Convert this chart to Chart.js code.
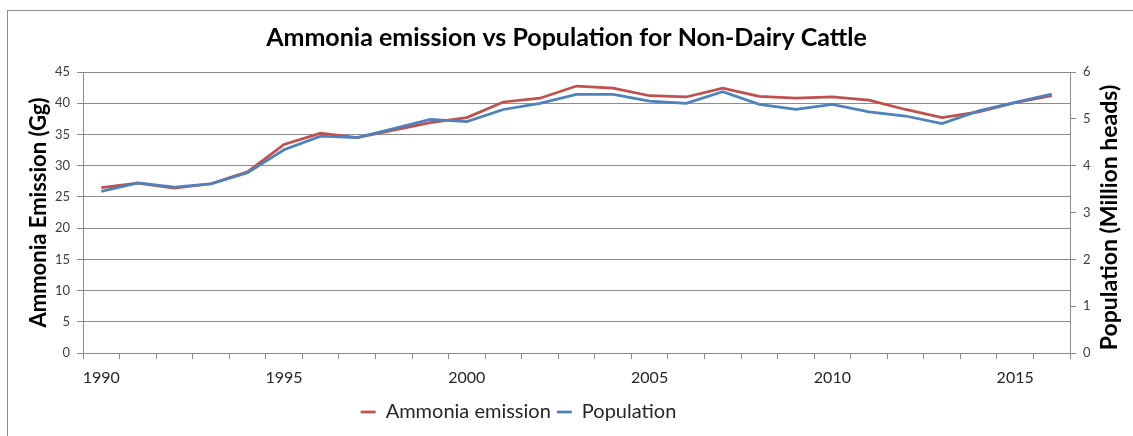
<!DOCTYPE html>
<html>
<head>
<meta charset="utf-8">
<script src="https://cdn.jsdelivr.net/npm/chart.js@4"></script>
<style>
  html, body { margin: 0; padding: 0; background: #ffffff; }
  #wrap { width: 1133px; height: 436px; position: relative; }
</style>
</head>
<body>
<div id="wrap"><canvas id="chart" width="1133" height="436"></canvas></div>
<script>
// Years on the horizontal axis
const years = ['1990','1991','1992','1993','1994','1995','1996','1997','1998','1999',
               '2000','2001','2002','2003','2004','2005','2006','2007','2008','2009',
               '2010','2011','2012','2013','2014','2015','2016'];

// Ammonia emission, Gg (left axis)
const ammoniaEmission = [26.5, 27.2, 26.4, 27.1, 29.0, 33.4, 35.2, 34.5, 35.7, 36.9,
                         37.7, 40.2, 40.8, 42.75, 42.4, 41.2, 41.0, 42.4, 41.1, 40.8,
                         41.0, 40.5, 39.0, 37.7, 38.6, 40.1, 41.2];

// Non-dairy cattle population, million heads (right axis)
const population = [3.45, 3.63, 3.54, 3.61, 3.85, 4.34, 4.63, 4.60, 4.79, 4.99,
                    4.94, 5.20, 5.33, 5.52, 5.52, 5.38, 5.33, 5.58, 5.31, 5.20,
                    5.31, 5.15, 5.06, 4.90, 5.17, 5.35, 5.53];

// Axis tick ranges
const emissionTicks = { min: 0, max: 45, step: 5 };
const populationTicks = { min: 0, max: 6, step: 1 };
const labelEvery = 5;

const RED = '#C0504D';
const BLUE = '#4F81BD';
const GRID = '#8c8c8c';
const FONT = 'Lato, "Open Sans", sans-serif';
const rightAxisTitle = 'Population (Million heads)';

Chart.defaults.font.family = FONT;

// White background and the chart outline
const frame = {
  id: 'frame',
  beforeDraw(chart) {
    const ctx = chart.ctx;
    ctx.save();
    ctx.fillStyle = '#ffffff';
    ctx.fillRect(0, 0, chart.width, chart.height);
    ctx.strokeStyle = '#8a8a8a';
    ctx.lineWidth = 1;
    ctx.strokeRect(7.5, 10.5, chart.width + 20, chart.height + 20);
    ctx.restore();
  }
};

// Right-hand axis title, reading bottom to top like the left one
const rightTitle = {
  id: 'rightTitle',
  afterDraw(chart) {
    const s = chart.scales.y1;
    const ctx = chart.ctx;
    ctx.save();
    ctx.translate(s.right - 23, (chart.chartArea.top + chart.chartArea.bottom) / 2 + 5);
    ctx.rotate(-Math.PI / 2);
    ctx.fillStyle = '#000000';
    ctx.font = 'bold 23px ' + FONT;
    ctx.textAlign = 'center';
    ctx.textBaseline = 'middle';
    ctx.fillText(rightAxisTitle, 0, 0);
    ctx.restore();
  }
};

// Legend sits a little left of centre
const legendShift = {
  id: 'legendShift',
  afterLayout(chart) {
    const lg = chart.legend;
    if (!lg) return;
    const d = 48;
    lg.left -= d; lg.right -= d;
  }
};

new Chart(document.getElementById('chart'), {
  type: 'line',
  data: {
    labels: years,
    datasets: [
      {
        label: 'Ammonia emission',
        data: ammoniaEmission,
        yAxisID: 'y',
        borderColor: RED,
        backgroundColor: RED,
        borderWidth: 2.75,
        pointRadius: 0,
        tension: 0,
        order: 1
      },
      {
        label: 'Population',
        data: population,
        yAxisID: 'y1',
        borderColor: BLUE,
        backgroundColor: BLUE,
        borderWidth: 2.75,
        pointRadius: 0,
        tension: 0,
        order: 0
      }
    ]
  },
  options: {
    responsive: false,
    animation: false,
    devicePixelRatio: 1,
    layout: { padding: { left: 0, right: 0, top: 0, bottom: 4 } },
    plugins: {
      tooltip: { enabled: false },
      title: {
        display: true,
        text: 'Ammonia emission vs Population for Non-Dairy Cattle',
        color: '#000000',
        font: { size: 25, weight: 'bold' },
        padding: { top: 23, bottom: 19 }
      },
      legend: {
        display: true,
        position: 'bottom',
        labels: {
          color: '#262626',
          font: { size: 20 },
          usePointStyle: true,
          pointStyle: 'line',
          pointStyleWidth: 15,
          padding: 6,
          sort: (a, b) => a.datasetIndex - b.datasetIndex
        }
      }
    },
    scales: {
      x: {
        type: 'category',
        offset: true,
        grid: {
          offset: true,
          drawOnChartArea: false,
          drawTicks: true,
          tickLength: 6,
          color: GRID
        },
        border: { display: true, color: GRID, width: 1 },
        ticks: {
          autoSkip: false,
          maxRotation: 0,
          color: '#262626',
          font: { size: 16 },
          padding: 9,
          callback(value) {
            const lbl = this.getLabelForValue(value);
            return (Number(lbl) % labelEvery === 0) ? lbl : '';
          }
        },
        afterFit(scale) { scale.height = 43; }
      },
      y: {
        position: 'left',
        min: emissionTicks.min,
        max: emissionTicks.max,
        grid: { color: GRID, tickLength: 6, drawTicks: true },
        border: { display: true, color: GRID, width: 1 },
        ticks: {
          stepSize: emissionTicks.step,
          color: '#404040',
          font: { size: 13 },
          padding: 7
        },
        title: {
          display: true,
          text: 'Ammonia Emission (Gg)',
          color: '#000000',
          font: { size: 22, weight: 'bold' },
          padding: { top: 26, bottom: 0 }
        },
        afterFit(scale) { scale.width = 83; }
      },
      y1: {
        position: 'right',
        min: populationTicks.min,
        max: populationTicks.max,
        grid: { drawOnChartArea: false, color: GRID, tickLength: 6, drawTicks: true },
        border: { display: true, color: GRID, width: 1 },
        ticks: {
          stepSize: populationTicks.step,
          color: '#404040',
          font: { size: 13 },
          padding: 7
        },
        afterFit(scale) { scale.width = 63; }
      }
    }
  },
  plugins: [frame, rightTitle, legendShift]
});
</script>
</body>
</html>
